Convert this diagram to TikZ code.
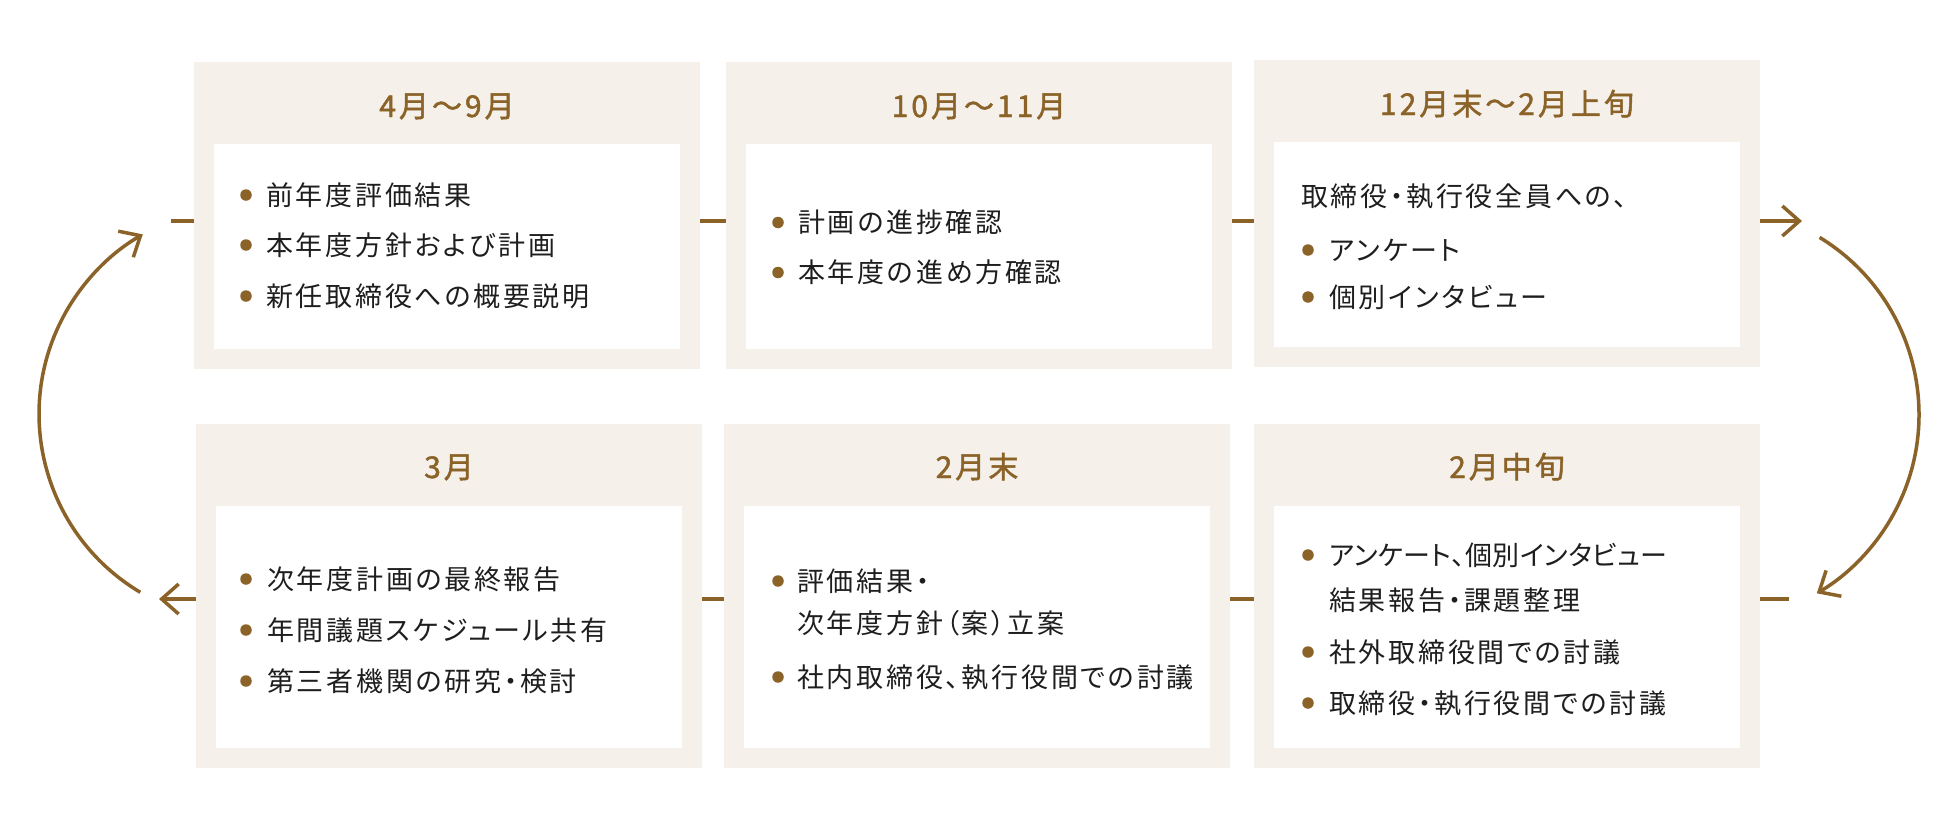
\documentclass[tikz,border=0pt]{standalone}
\usepackage{fontspec}
\setmainfont{Noto Sans CJK JP}[RawFeature={+palt},LetterSpace=10]
\newfontfamily\ttlfont{Noto Sans CJK JP}[RawFeature={+palt},LetterSpace=10,FakeBold=1.6]
\usetikzlibrary{arrows.meta}
\definecolor{brn}{HTML}{8B6328}
\definecolor{bge}{HTML}{F5F1EA}
\definecolor{ink}{HTML}{1E1E1E}
\tikzset{
  outerbox/.style={fill=bge, draw=none, anchor=north west, inner sep=0pt, minimum width=506pt},
  innerbox/.style={fill=white, draw=none, anchor=north west, inner sep=0pt, minimum width=466pt},
  ttl/.style={font=\ttlfont\fontsize{30}{36}\selectfont, text=brn, inner sep=0pt, text height=24pt, text depth=2pt},
  body/.style={font=\fontsize{27}{32}\selectfont, text=ink, anchor=west, inner sep=0pt, text height=22.4pt, text depth=1.9pt},
  dot/.style={circle, fill=brn, draw=none, inner sep=0pt, minimum size=11.5pt},
  conn/.style={draw=brn, line width=3.5pt},
  arr/.style={conn, -{Straight Barb[length=17pt,width=30pt]}}
}
\begin{document}
\begin{tikzpicture}[x=1pt,y=1pt]
\fill[white] (0,0) rectangle (1960,-830);
\useasboundingbox (0,0) rectangle (1960,-830);

% boxes
\node[outerbox, minimum height=307pt] (b1) at (194,-62) {};
\node[outerbox, minimum height=307pt] (b2) at (726,-62) {};
\node[outerbox, minimum height=307pt] (b3) at (1254,-60) {};
\node[outerbox, minimum height=344pt] (b4) at (196,-424) {};
\node[outerbox, minimum height=344pt] (b5) at (724,-424) {};
\node[outerbox, minimum height=344pt] (b6) at (1254,-424) {};

\node[innerbox, minimum height=205pt] (w1) at (214,-144) {};
\node[innerbox, minimum height=205pt] (w2) at (746,-144) {};
\node[innerbox, minimum height=205pt] (w3) at (1274,-142) {};
\node[innerbox, minimum height=242pt] (w4) at (216,-506) {};
\node[innerbox, minimum height=242pt] (w5) at (744,-506) {};
\node[innerbox, minimum height=242pt] (w6) at (1274,-506) {};

% titles
\node[ttl] (t1) at (447,-106) {4月〜9月};
\node[ttl] (t2) at (979,-106) {10月〜11月};
\node[ttl] (t3) at (1507,-104) {12月末〜2月上旬};
\node[ttl] (t4) at (449,-467) {3月};
\node[ttl] (t5) at (977,-467) {2月末};
\node[ttl] (t6) at (1507,-467) {2月中旬};

% box 1
\node[dot] (d11) at (246,-195) {};
\node[dot] (d12) at (246,-245) {};
\node[dot] (d13) at (246,-296) {};
\node[body] (x11) at (266,-195) {前年度評価結果};
\node[body] (x12) at (266,-245) {本年度方針および計画};
\node[body] (x13) at (266,-296) {新任取締役への概要説明};

% box 2
\node[dot] (d21) at (778,-222.5) {};
\node[dot] (d22) at (778,-272.5) {};
\node[body] (x21) at (798,-222.5) {計画の進捗確認};
\node[body] (x22) at (798,-272.5) {本年度の進め方確認};

% box 3
\node[body] (x30) at (1301,-196) {取締役・執行役全員への、};
\node[dot] (d31) at (1308,-250) {};
\node[dot] (d32) at (1308,-297) {};
\node[body] (x31) at (1329,-250) {アンケート};
\node[body] (x32) at (1329,-297) {個別インタビュー};

% box 4
\node[dot] (d41) at (246,-579) {};
\node[dot] (d42) at (246,-630) {};
\node[dot] (d43) at (246,-681) {};
\node[body] (x41) at (267,-579) {次年度計画の最終報告};
\node[body] (x42) at (267,-630) {年間議題スケジュール共有};
\node[body] (x43) at (267,-681) {第三者機関の研究・検討};

% box 5
\node[dot] (d51) at (778,-581) {};
\node[dot] (d52) at (778,-677) {};
\node[body] (x51) at (797,-581) {評価結果・};
\node[body] (x52) at (797,-623) {次年度方針（案）立案};
\node[body] (x53) at (797,-677) {社内取締役、執行役間での討議};

% box 6
\node[dot] (d61) at (1308,-555) {};
\node[dot] (d62) at (1308,-652) {};
\node[dot] (d63) at (1308,-703) {};
\node[body] (x61) at (1329,-555) {\addfontfeatures{LetterSpace=1.5}アンケート、個別インタビュー};
\node[body] (x62) at (1329,-600) {結果報告・課題整理};
\node[body] (x63) at (1329,-652) {社外取締役間での討議};
\node[body] (x64) at (1329,-703) {取締役・執行役間での討議};

% connectors
\coordinate (r1) at (0,-221);
\coordinate (r2) at (0,-599);
\coordinate (s1) at (171,-221);
\coordinate (a1) at (1802,-221);
\coordinate (s2) at (1789,-599);
\coordinate (a2) at (159,-599);
\coordinate (ra) at (1819.6,-237.4);
\coordinate (la) at (140.3,-592.3);

\draw[conn] (s1) -- (b1.west |- r1);
\draw[conn] (b1.east |- r1) -- (b2.west |- r1);
\draw[conn] (b2.east |- r1) -- (b3.west |- r1);
\draw[arr] (b3.east |- r1) -- (a1);
\draw[arr] (ra) arc[start angle=58.6, end angle=-59.5, radius=207.5];
\draw[conn] (b6.east |- r2) -- (s2);
\draw[conn] (b5.east |- r2) -- (b6.west |- r2);
\draw[conn] (b4.east |- r2) -- (b5.west |- r2);
\draw[arr] (b4.west |- r2) -- (a2);
\draw[arr] (la) arc[start angle=239.2, end angle=120, radius=207.5];
\end{tikzpicture}
\end{document}
